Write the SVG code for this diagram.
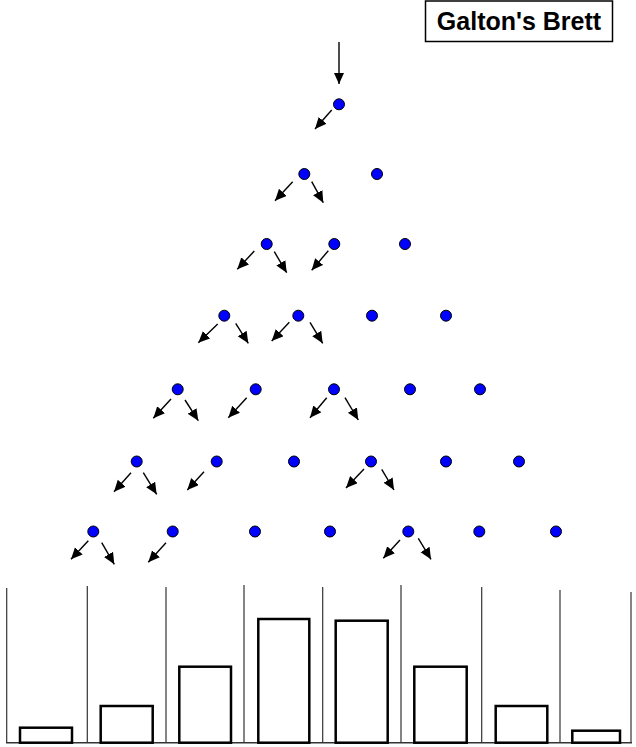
<svg xmlns="http://www.w3.org/2000/svg" width="636" height="747" viewBox="0 0 636 747">
<style>
.dot{fill:#0000ff;stroke:#000;stroke-width:1}
.arr{stroke:#000;stroke-width:1.4;fill:none;marker-end:url(#ah)}
.bar{fill:#fff;stroke:#000;stroke-width:2.5}
.div{stroke:#333;stroke-width:1.2}
.title{font-family:"Liberation Sans",Arial,sans-serif;font-weight:bold;font-size:25px;fill:#000}
</style>
<defs>
<marker id="ah" markerUnits="userSpaceOnUse" markerWidth="13" markerHeight="12" refX="11.5" refY="5.25" orient="auto">
<path d="M0,0 L11.5,5.25 L0,10.5 Z" fill="#000"/>
</marker>
</defs>
<rect width="636" height="747" fill="#fff"/>
<g id="title">
<rect x="425.5" y="1" width="187" height="40.5" fill="#fff" stroke="#000" stroke-width="1.5"/>
<text class="title" x="519" y="30" text-anchor="middle">Galton's Brett</text>
</g>
<g id="bins">
<line class="div" x1="6.7" y1="588" x2="6.7" y2="743"/>
<line class="div" x1="87.3" y1="586" x2="87.3" y2="743"/>
<line class="div" x1="166" y1="587" x2="166" y2="743"/>
<line class="div" x1="244" y1="585" x2="244" y2="743"/>
<line class="div" x1="322.7" y1="587" x2="322.7" y2="743"/>
<line class="div" x1="401" y1="585" x2="401" y2="743"/>
<line class="div" x1="481.7" y1="587" x2="481.7" y2="743"/>
<line class="div" x1="560" y1="590" x2="560" y2="743"/>
<line class="div" x1="631" y1="592" x2="631" y2="743"/>
<line x1="6" y1="742.7" x2="632" y2="742.7" stroke="#333" stroke-width="1.5"/>
<rect class="bar" x="20" y="727.7" width="52" height="15"/>
<rect class="bar" x="100.7" y="706" width="52" height="36.7"/>
<rect class="bar" x="179.3" y="666.7" width="51.7" height="76"/>
<rect class="bar" x="258.3" y="619" width="51" height="123.7"/>
<rect class="bar" x="335.7" y="620.7" width="52" height="122"/>
<rect class="bar" x="414.3" y="666.7" width="52.4" height="76"/>
<rect class="bar" x="495.7" y="706" width="51.6" height="36.7"/>
<rect class="bar" x="572.3" y="730.7" width="47.7" height="12"/>
</g>
<g id="connectors">
<line class="arr" x1="339" y1="42" x2="339" y2="84"/>
<line class="arr" x1="331.7" y1="110" x2="315" y2="129"/>
<line class="arr" x1="292.7" y1="181.7" x2="275" y2="200.7"/>
<line class="arr" x1="311.7" y1="181.7" x2="323.3" y2="202.7"/>
<line class="arr" x1="254.3" y1="251" x2="237.3" y2="269.3"/>
<line class="arr" x1="274.3" y1="251.7" x2="286.7" y2="272.7"/>
<line class="arr" x1="328.3" y1="250.7" x2="311.7" y2="270.3"/>
<line class="arr" x1="217.7" y1="324" x2="198.3" y2="342.7"/>
<line class="arr" x1="235.7" y1="323.3" x2="248.3" y2="343.3"/>
<line class="arr" x1="289.3" y1="322.3" x2="271.7" y2="341"/>
<line class="arr" x1="310" y1="322.3" x2="322.7" y2="343.3"/>
<line class="arr" x1="171" y1="399" x2="153.3" y2="418.3"/>
<line class="arr" x1="185" y1="400" x2="198.3" y2="420.7"/>
<line class="arr" x1="246.7" y1="397.7" x2="228.3" y2="417.7"/>
<line class="arr" x1="326.7" y1="397.7" x2="310" y2="417.7"/>
<line class="arr" x1="345" y1="397.7" x2="358.3" y2="420"/>
<line class="arr" x1="131" y1="472.7" x2="114" y2="491.7"/>
<line class="arr" x1="143.3" y1="472.7" x2="156.7" y2="494.3"/>
<line class="arr" x1="204" y1="471.7" x2="187.3" y2="490"/>
<line class="arr" x1="364" y1="469" x2="346" y2="488"/>
<line class="arr" x1="381.7" y1="469.3" x2="394" y2="490"/>
<line class="arr" x1="88.3" y1="540.7" x2="71" y2="559.3"/>
<line class="arr" x1="101.7" y1="542.7" x2="114.3" y2="564.3"/>
<line class="arr" x1="166" y1="542.7" x2="148.3" y2="562.3"/>
<line class="arr" x1="400" y1="540" x2="383.3" y2="558.3"/>
<line class="arr" x1="418.3" y1="538.3" x2="431" y2="559.3"/>
</g>
<g id="pegs">
<g id="p1-1"><circle class="dot" cx="339" cy="104.3" r="5.5"/></g>
<g id="p2-1"><circle class="dot" cx="304.3" cy="174" r="5.5"/></g>
<g id="p2-2"><circle class="dot" cx="377" cy="174" r="5.5"/></g>
<g id="p3-1"><circle class="dot" cx="266.7" cy="244" r="5.5"/></g>
<g id="p3-2"><circle class="dot" cx="334.3" cy="244" r="5.5"/></g>
<g id="p3-3"><circle class="dot" cx="405" cy="244" r="5.5"/></g>
<g id="p4-1"><circle class="dot" cx="224.3" cy="315.7" r="5.5"/></g>
<g id="p4-2"><circle class="dot" cx="298.3" cy="315.7" r="5.5"/></g>
<g id="p4-3"><circle class="dot" cx="372" cy="315.7" r="5.5"/></g>
<g id="p4-4"><circle class="dot" cx="446" cy="315.7" r="5.5"/></g>
<g id="p5-1"><circle class="dot" cx="177.7" cy="389.3" r="5.5"/></g>
<g id="p5-2"><circle class="dot" cx="255.7" cy="389.3" r="5.5"/></g>
<g id="p5-3"><circle class="dot" cx="334" cy="389.3" r="5.5"/></g>
<g id="p5-4"><circle class="dot" cx="410" cy="389.3" r="5.5"/></g>
<g id="p5-5"><circle class="dot" cx="480" cy="389.3" r="5.5"/></g>
<g id="p6-1"><circle class="dot" cx="136.7" cy="461.5" r="5.5"/></g>
<g id="p6-2"><circle class="dot" cx="216.7" cy="461.5" r="5.5"/></g>
<g id="p6-3"><circle class="dot" cx="294" cy="461.5" r="5.5"/></g>
<g id="p6-4"><circle class="dot" cx="371" cy="461.5" r="5.5"/></g>
<g id="p6-5"><circle class="dot" cx="446" cy="461.5" r="5.5"/></g>
<g id="p6-6"><circle class="dot" cx="519" cy="461.5" r="5.5"/></g>
<g id="p7-1"><circle class="dot" cx="93.3" cy="531.5" r="5.5"/></g>
<g id="p7-2"><circle class="dot" cx="172.7" cy="531.5" r="5.5"/></g>
<g id="p7-3"><circle class="dot" cx="255" cy="531.5" r="5.5"/></g>
<g id="p7-4"><circle class="dot" cx="330" cy="531.5" r="5.5"/></g>
<g id="p7-5"><circle class="dot" cx="408.3" cy="531.5" r="5.5"/></g>
<g id="p7-6"><circle class="dot" cx="479.3" cy="531.5" r="5.5"/></g>
<g id="p7-7"><circle class="dot" cx="556" cy="531.5" r="5.5"/></g>
</g>
</svg>
